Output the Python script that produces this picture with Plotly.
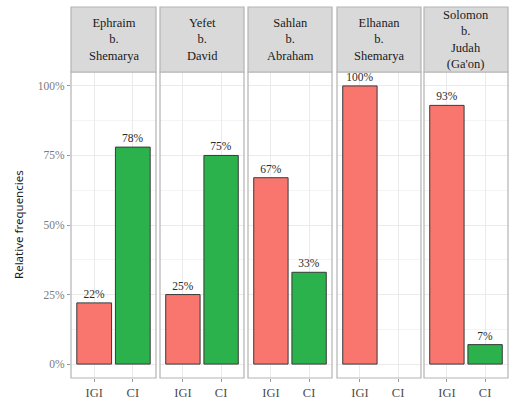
import plotly.graph_objects as go

scribes = ["Ephraim<br>b.<br>Shemarya", "Yefet<br>b.<br>David", "Sahlan<br>b.<br>Abraham",
           "Elhanan<br>b.<br>Shemarya", "Solomon<br>b.<br>Judah<br>(Ga'on)"]
categories = ["IGI", "CI"]
igi_values = [0.22, 0.25, 0.67, 1.00, 0.93]
ci_values = [0.78, 0.75, 0.33, None, 0.07]
y_tick_vals = [0, 0.25, 0.5, 0.75, 1.0]
y_tick_text = ["0%", "25%", "50%", "75%", "100%"]

colors = {"IGI": "#F8766D", "CI": "#2BB24C"}
W, H = 513, 403
panels_px = [(71, 156), (160, 244), (248, 332), (337, 421), (424, 508)]
plot_top, plot_bot = 72, 378
strip_top = 7
FONT = "Liberation Serif"

fig = go.Figure()
layout = dict(width=W, height=H, margin=dict(l=0, r=0, t=0, b=0),
              paper_bgcolor="white", plot_bgcolor="white", showlegend=False,
              bargap=0.1, font=dict(family=FONT, color="#333333"))
shapes = []
annotations = []
ydom = [(H - plot_bot) / H, (H - plot_top) / H]
for i, (name, (x0, x1)) in enumerate(zip(scribes, panels_px)):
    k = "" if i == 0 else str(i + 1)
    vals = [igi_values[i], ci_values[i]]
    texts = [f"{round(v*100)}%" if v is not None else "" for v in vals]
    fig.add_trace(go.Bar(
        x=categories, y=vals, text=texts, textposition="outside",
        textfont=dict(family=FONT, size=11.5, color="#2b2b2b"),
        constraintext="none", cliponaxis=False, width=0.9,
        marker=dict(color=[colors[c] for c in categories], line=dict(color="#3a3a3a", width=1)),
        xaxis="x" + k, yaxis="y" + k, hoverinfo="skip"))
    layout["xaxis" + k] = dict(domain=[x0 / W, x1 / W], type="category",
                               categoryorder="array", categoryarray=categories,
                               range=[-0.6, 1.6], showgrid=True, gridcolor="#EBEBEB",
                               gridwidth=1, zeroline=False, showline=False,
                               ticks="outside", ticklen=3, tickcolor="#999999",
                               tickfont=dict(family=FONT, size=12.5, color="#4D4D4D"),
                               anchor="y" + k, fixedrange=True, automargin=False)
    layout["yaxis" + k] = dict(domain=ydom, range=[-0.05, 1.05], tickvals=y_tick_vals,
                               ticktext=y_tick_text, showticklabels=(i == 0),
                               ticks="outside" if i == 0 else "", ticklen=3, tickcolor="#999999",
                               tickfont=dict(family=FONT, size=11.5, color="#7A7A7A"),
                               showgrid=True, gridcolor="#EBEBEB", gridwidth=1,
                               minor=dict(tickvals=[0.125, 0.375, 0.625, 0.875], showgrid=True,
                                          gridcolor="#F4F4F4", gridwidth=0.5),
                               zeroline=False, showline=False, anchor="x" + k,
                               fixedrange=True, automargin=False)
    shapes.append(dict(type="rect", xref="paper", yref="paper", x0=x0 / W, x1=x1 / W,
                       y0=ydom[0], y1=ydom[1], line=dict(color="#B3B3B3", width=1.2),
                       fillcolor="rgba(0,0,0,0)", layer="above"))
    shapes.append(dict(type="rect", xref="paper", yref="paper", x0=x0 / W, x1=x1 / W,
                       y0=ydom[1], y1=(H - strip_top) / H, line=dict(color="#B3B3B3", width=1.2),
                       fillcolor="#D9D9D9"))
    annotations.append(dict(text=name, xref="paper", yref="paper",
                            x=(x0 + x1) / 2 / W, y=(ydom[1] + (H - strip_top) / H) / 2,
                            xanchor="center", yanchor="middle", showarrow=False,
                            font=dict(family=FONT, size=12.5, color="#1A1A1A")))

annotations.append(dict(text="Relative frequencies", xref="paper", yref="paper",
                        x=18 / W, y=sum(ydom) / 2, textangle=-90, showarrow=False,
                        xanchor="center", yanchor="middle",
                        font=dict(family="Noto Sans", size=11.5, color="#1A1A1A")))
layout["shapes"] = shapes
layout["annotations"] = annotations
fig.update_layout(**layout)
fig.write_html("out.html", config={"displayModeBar": False},
               post_script="document.body.style.margin='0';document.body.style.overflow='hidden';")
